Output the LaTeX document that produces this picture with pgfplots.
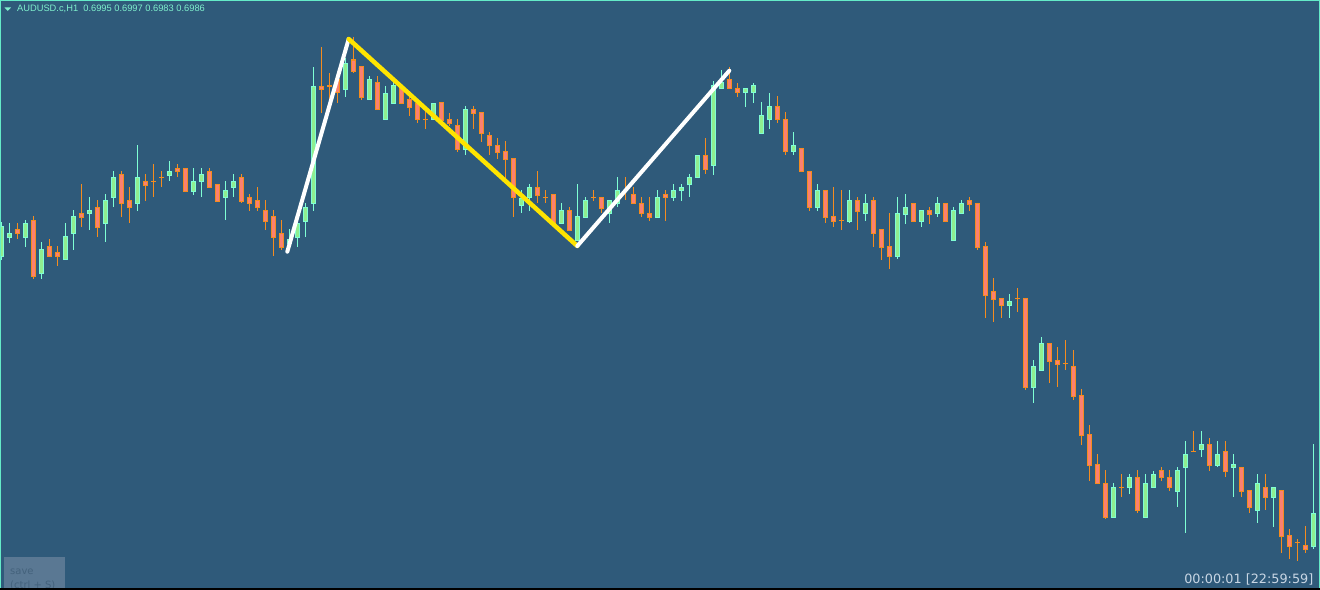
\documentclass[border=0pt]{standalone}
\usepackage{fontspec}
\setmainfont{Liberation Sans}
\newfontfamily\clockfont{DejaVu Sans}
\usepackage{pgfplots}
\usepackage{pgfplotstable}
\pgfplotsset{compat=1.18}

\definecolor{bg}{RGB}{47,90,122}
\definecolor{bullbody}{RGB}{144,238,144}
\definecolor{bulledge}{RGB}{127,255,212}
\definecolor{bearbody}{RGB}{250,128,114}
\definecolor{bearedge}{RGB}{245,140,30}
\definecolor{frame}{RGB}{100,235,200}
\definecolor{hdr}{RGB}{127,240,205}
\definecolor{clock}{RGB}{200,214,228}
\definecolor{savebox}{RGB}{90,120,147}
\definecolor{savetxt}{RGB}{68,98,124}
\definecolor{zzyellow}{RGB}{255,228,0}

% candles in screen pixels: i = bar index, bt/bb = body top/bottom, wt/wb = wick top/bottom
\pgfplotstableread{
i bt bb wt wb
0 226 256 222 260
1 233 237 223 243
3 223 237 220 247
5 249 273 242 279
8 236 259 223 259
9 216 233 210 250
11 210 213 197 230
13 200 223 194 242
14 177 197 171 207
17 177 203 145 211
21 171 175 161 181
24 181 191 168 195
25 174 181 168 197
28 190 197 181 220
29 181 187 174 197
36 239 243 229 249
37 223 237 220 247
38 207 221 203 237
39 86 203 67 211
43 63 89 58 97
46 80 99 76 99
48 93 119 86 119
49 86 103 82 103
54 103 119 103 119
58 109 149 106 155
65 198 205 190 213
66 187 197 184 211
70 210 223 203 223
72 216 240 184 240
73 200 217 197 217
76 200 213 200 223
77 190 203 177 207
82 197 217 190 217
84 190 197 184 201
85 187 190 184 201
86 177 184 174 197
87 155 177 155 177
89 86 165 81 175
90 83 89 70 89
93 89 93 89 107
94 86 93 83 103
95 115 133 102 133
96 106 119 93 129
99 145 151 132 155
102 190 207 184 211
106 200 221 190 223
108 203 213 194 221
112 213 256 197 259
113 207 214 194 224
115 210 221 210 227
117 203 213 197 217
119 210 240 207 240
120 203 213 200 213
126 301 305 294 318
129 366 387 360 403
130 343 370 337 370
139 487 517 483 517
141 477 487 474 494
143 483 517 474 517
144 474 487 471 487
147 470 491 467 507
148 454 467 441 533
150 444 449 431 457
152 454 465 441 467
154 464 467 454 497
157 483 510 474 523
159 487 497 487 527
164 513 546 444 549
}\bull

\pgfplotstableread{
i bt bb wt wb
2 229 233 223 239
4 220 276 216 279
6 246 256 239 256
7 252 256 246 266
10 213 217 184 227
12 207 227 200 237
15 174 203 171 217
16 200 207 187 223
18 181 185 174 201
19 181 181 164 197
20 177 177 171 187
22 168 171 164 177
23 168 191 168 191
26 171 187 168 187
27 184 201 184 201
30 177 201 174 203
31 197 203 194 211
32 200 207 187 211
33 210 221 200 230
34 216 237 210 256
35 233 247 220 250
40 86 89 47 113
41 86 86 73 102
42 80 93 78 103
44 60 71 37 73
45 67 97 67 100
47 83 109 76 109
50 87 103 87 103
51 99 107 96 116
52 103 119 99 123
53 119 119 109 129
55 102 120 102 120
56 119 123 113 126
57 125 149 119 152
59 109 113 106 129
60 112 133 112 142
61 135 145 132 155
62 145 152 138 159
63 151 159 141 179
64 158 197 158 217
67 187 195 171 203
68 197 197 190 203
69 194 223 194 223
71 210 230 207 230
74 197 197 190 201
75 197 208 197 213
78 190 190 177 200
79 194 203 187 203
80 203 213 197 217
81 213 217 197 221
83 194 197 190 221
88 155 169 138 174
91 80 89 67 89
92 89 93 83 97
97 106 119 96 123
98 119 151 112 155
100 148 171 148 171
101 171 207 171 211
103 190 217 190 223
104 216 221 187 227
105 220 220 190 230
107 200 211 197 230
109 200 233 197 247
110 229 247 229 260
111 246 256 213 269
114 203 221 203 221
116 210 214 207 224
118 203 221 203 221
121 200 204 197 211
122 203 247 203 250
123 246 295 242 318
124 291 299 278 322
125 298 305 298 318
127 298 298 288 312
128 298 387 298 390
131 343 361 343 383
132 360 364 347 387
133 363 363 340 370
134 366 396 350 400
135 395 435 389 445
136 434 465 425 481
137 464 483 454 483
138 483 517 470 519
140 487 487 474 497
142 477 510 470 513
145 470 477 467 481
146 477 487 470 491
149 451 451 431 451
151 444 465 438 471
153 451 471 441 477
155 467 491 467 497
156 490 507 490 513
158 487 497 474 510
160 490 536 490 553
161 535 546 529 559
162 542 542 539 561
163 545 549 526 553
}\bear

\pgfplotsset{
  bar/.style 2 args={draw=none, mark=none, forget plot,
    error bars/.cd, y dir=both, y explicit, error mark=none,
    error bar style={draw=#1, line width=#2, line cap=butt}},
}

\begin{document}
\begin{tikzpicture}
\begin{axis}[
  width=1320bp, height=589bp, scale only axis,
  xmin=0, xmax=1320, ymin=0, ymax=589, y dir=reverse,
  hide axis, clip=true,
]
\fill[bg] (rel axis cs:0,0) rectangle (rel axis cs:1,1);

% wicks
\addplot[bar={bulledge}{1bp}] table[x expr=1.3+8*\thisrow{i}, y expr=(\thisrow{wt}+\thisrow{wb})/2, y error expr=(\thisrow{wb}-\thisrow{wt})/2] {\bull};
\addplot[bar={bearedge}{1bp}] table[x expr=1.3+8*\thisrow{i}, y expr=(\thisrow{wt}+\thisrow{wb})/2, y error expr=(\thisrow{wb}-\thisrow{wt})/2] {\bear};
% body edges
\addplot[bar={bulledge}{5bp}] table[x expr=1.3+8*\thisrow{i}, y expr=(\thisrow{bt}+\thisrow{bb})/2, y error expr=(\thisrow{bb}-\thisrow{bt})/2+0.5] {\bull};
\addplot[bar={bearedge}{5bp}] table[x expr=1.3+8*\thisrow{i}, y expr=(\thisrow{bt}+\thisrow{bb})/2, y error expr=(\thisrow{bb}-\thisrow{bt})/2+0.5] {\bear};
% body fills
\addplot[bar={bullbody}{3bp}] table[x expr=1.3+8*\thisrow{i}, y expr=(\thisrow{bt}+\thisrow{bb})/2, y error expr={max((\thisrow{bb}-\thisrow{bt})/2-0.5,0)}] {\bull};
\addplot[bar={bearbody}{3bp}] table[x expr=1.3+8*\thisrow{i}, y expr=(\thisrow{bt}+\thisrow{bb})/2, y error expr={max((\thisrow{bb}-\thisrow{bt})/2-0.5,0)}] {\bear};

% zigzag
\addplot[white, line width=4bp, line cap=round] coordinates {(287.3,251.7) (348.7,39)};
\addplot[zzyellow, line width=4.5bp, line cap=round] coordinates {(348.7,39) (577.3,246)};
\addplot[white, line width=4bp, line cap=round] coordinates {(577.3,246) (729.3,70.7)};

% header
\fill[hdr] (axis cs:4.5,7.5) -- (axis cs:11,7.5) -- (axis cs:7.75,11) -- cycle;
\node[anchor=base west, inner sep=0pt, text=hdr, font=\fontsize{9.3bp}{11bp}\selectfont]
  at (axis cs:17,11.8) {AUDUSD.c,H1\ \ 0.6995 0.6997 0.6983 0.6986};

% save box
\fill[savebox] (axis cs:4,557) rectangle (axis cs:65,595);
\node[anchor=base west, inner sep=0pt, text=savetxt, font=\clockfont\fontsize{10bp}{12bp}\selectfont]
  at (axis cs:10,574) {save};
\node[anchor=base west, inner sep=0pt, text=savetxt, font=\clockfont\fontsize{10bp}{12bp}\selectfont]
  at (axis cs:10,588.5) {(ctrl + S)};

% clock
\node[anchor=base east, inner sep=0pt, text=clock, font=\clockfont\fontsize{12.8bp}{15bp}\selectfont]
  at (axis cs:1313.5,583) {00:00:01 [22:59:59]};

% frame
\draw[frame, line width=1.4bp] (rel axis cs:0,0) -- (rel axis cs:0,1) -- (rel axis cs:1,1) -- (rel axis cs:1,0);
\draw[black, line width=2.4bp] (rel axis cs:0,0) -- (rel axis cs:1,0);
\end{axis}
\end{tikzpicture}
\end{document}
